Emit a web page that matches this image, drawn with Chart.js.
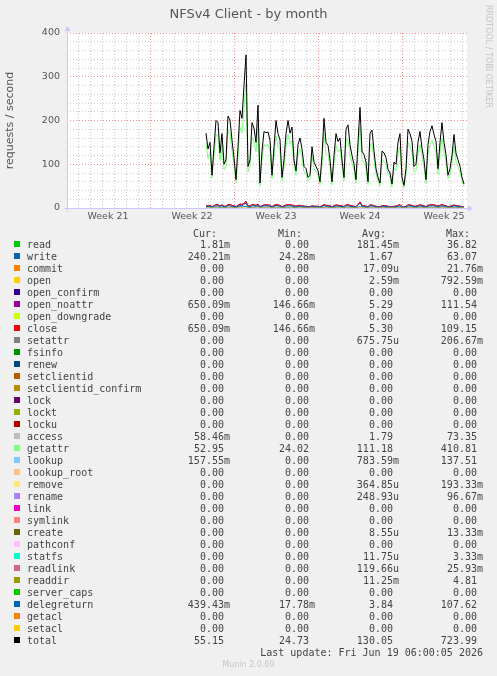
<!DOCTYPE html>
<html><head><meta charset="utf-8">
<script src="https://cdn.jsdelivr.net/npm/chart.js@4/dist/chart.umd.min.js"></script>
<style>
html,body{margin:0;padding:0;background:#f0f0f0;}
body{width:497px;height:676px;position:relative;overflow:hidden;font-family:"DejaVu Sans",sans-serif;}
#c{position:absolute;left:0;top:0;}
#title{position:absolute;left:0;width:497px;top:6px;line-height:16px;text-align:center;font-size:13px;color:#555;}
#rrd{position:absolute;left:484px;top:5px;writing-mode:vertical-rl;font-size:8px;line-height:9px;color:#c4c4c4;white-space:nowrap;}
.row{position:absolute;left:0;width:497px;height:12px;line-height:12px;font-family:"DejaVu Sans Mono",monospace;font-size:10px;color:#444;white-space:pre;}
.sw{position:absolute;left:14px;top:2px;width:6px;height:6px;}
.nm{position:absolute;left:27px;top:0;}
.v{position:absolute;top:0;text-align:right;}
#munin{position:absolute;left:0;width:497px;text-align:center;top:660px;font-size:8px;line-height:10px;color:#c8c8c8;}
</style></head>
<body>
<canvas id="c" width="497" height="230"></canvas>
<div id="title">NFSv4 Client - by month</div>
<div id="rrd">RRDTOOL / TOBI OETIKER</div>
<div id="legend"></div>
<div id="munin">Munin 2.0.69</div>
<script>
// ---- time axis (hours from left edge of graph), 2 hours per pixel ----
const axisMaxHours = 800;
const weekStarts = [166, 334, 502, 670];
const weekLabels = ['Week 21', 'Week 22', 'Week 23', 'Week 24', 'Week 25'];
const weekLabelHours = [82, 250, 418, 586, 754];
const yTickStep = 20;
const yLabelStep = 100;
const yMax = 400;

// ---- series samples: first sample hour and step (hours) ----
const sampleStartHour = 278;
const sampleStepHours = 4;

const total = [171,135,150,75,140,200,195,126,170,100,110,210,201,155,115,65,140,223,205,280,350,95,110,195,182,150,235,57,130,175,172,174,155,75,140,200,170,156,70,110,170,200,171,185,110,85,145,160,135,95,90,70,75,140,105,95,85,60,120,205,150,143,110,60,120,170,152,160,110,70,180,190,145,120,100,65,150,230,130,122,105,60,171,178,130,90,70,57,130,126,115,88,80,55,105,100,150,170,70,52,90,180,170,152,95,100,150,175,137,110,65,145,175,188,168,152,90,150,195,150,122,75,90,120,168,125,110,95,70,55];
const getattr = [150,112,128,68,120,168,165,108,145,88,95,178,170,130,98,58,118,185,172,230,285,82,95,162,152,128,190,50,110,145,142,145,130,66,118,165,142,132,62,95,142,168,145,155,95,75,122,135,115,82,78,62,66,118,90,82,75,53,102,170,125,120,94,53,102,142,128,135,94,62,150,158,122,102,86,57,125,185,110,104,90,53,143,148,110,78,62,50,110,107,98,77,70,48,90,86,125,140,62,46,78,150,142,128,82,86,125,145,115,94,57,122,145,155,140,128,78,125,160,125,104,66,78,102,140,106,94,82,62,49];
const close = [6,5,6,3,5,8,7,5,7,4,4,8,8,6,5,3,6,9,8,11,15,4,5,8,7,6,9,3,5,7,7,7,6,3,6,8,7,6,3,5,7,8,7,7,5,4,6,6,5,4,4,3,3,5,4,4,4,3,5,8,6,6,5,3,5,7,6,6,5,3,7,8,6,5,4,3,8,14,6,5,4,3,7,7,5,4,3,3,5,5,5,4,3,3,4,4,6,8,3,2,4,7,7,6,4,4,6,7,6,5,3,6,7,8,7,6,4,6,8,6,5,3,4,5,7,5,5,4,3,2];
const openNoattr = [6,5,6,3,5,8,7,5,7,4,4,8,8,6,5,3,6,9,8,11,15,4,5,8,7,6,9,3,5,7,7,7,6,3,6,8,7,6,3,5,7,8,7,7,5,4,6,6,5,4,4,3,3,5,4,4,4,3,5,8,6,6,5,3,5,7,6,6,5,3,7,8,6,5,4,3,8,14,6,5,4,3,7,7,5,4,3,3,5,5,5,4,3,3,4,4,6,8,3,2,4,7,7,6,4,4,6,7,6,5,3,6,7,8,7,6,4,6,8,6,5,3,4,5,7,5,5,4,3,2];
const delegreturn = [4,3,4,2,4,5,5,4,5,3,3,6,5,4,3,2,4,6,5,8,11,3,3,5,5,4,6,2,4,5,5,5,4,2,4,6,5,4,2,3,5,5,5,5,3,3,4,4,4,3,3,2,2,4,3,3,3,2,3,6,4,4,3,2,3,5,4,4,3,2,5,5,4,3,3,2,6,11,4,4,3,2,5,5,4,3,2,2,4,4,3,3,2,2,3,3,4,5,2,2,3,5,5,4,3,3,4,5,4,3,2,4,5,5,5,4,3,4,5,4,4,2,3,3,5,4,3,3,2,2];
const write = [2,2,2,1,2,2,2,1,2,1,1,2,2,2,1,1,2,3,2,3,4,1,1,2,2,2,3,1,2,2,2,2,2,1,2,2,2,2,1,1,2,2,2,2,1,1,2,2,2,1,1,1,1,2,1,1,1,1,1,2,2,2,1,1,1,2,2,2,1,1,2,2,2,1,1,1,2,3,2,2,1,1,2,2,2,1,1,1,2,2,1,1,1,1,1,1,2,2,1,1,1,2,2,2,1,1,2,2,2,1,1,2,2,2,2,2,1,2,2,2,2,1,1,1,2,2,1,1,1,1];
const setacl = [0,0];
const setaclHours = [278, 794];

// ---- legend table ----
const legendNames = ['read','write','commit','open','open_confirm','open_noattr','open_downgrade','close','setattr','fsinfo','renew','setclientid','setclientid_confirm','lock','lockt','locku','access','getattr','lookup','lookup_root','remove','rename','link','symlink','create','pathconf','statfs','readlink','readdir','server_caps','delegreturn','getacl','setacl','total'];
const legendColors = ['#00CC00','#0066B3','#FF8000','#FFCC00','#330099','#990099','#CCFF00','#FF0000','#808080','#008F00','#00487D','#B35A00','#B38F00','#6B006B','#8FB300','#B30000','#BEBEBE','#80FF80','#80C9FF','#FFC080','#FFE680','#AA80FF','#EE00CC','#FF8080','#666600','#FFBFFF','#00FFCC','#CC6699','#999900','#00CC00','#0066B3','#FF8000','#FFCC00','#000000'];
const legendCur = ['1.81m','240.21m','0.00','0.00','0.00','650.09m','0.00','650.09m','0.00','0.00','0.00','0.00','0.00','0.00','0.00','0.00','58.46m','52.95','157.55m','0.00','0.00','0.00','0.00','0.00','0.00','0.00','0.00','0.00','0.00','0.00','439.43m','0.00','0.00','55.15'];
const legendMin = ['0.00','24.28m','0.00','0.00','0.00','146.66m','0.00','146.66m','0.00','0.00','0.00','0.00','0.00','0.00','0.00','0.00','0.00','24.02','0.00','0.00','0.00','0.00','0.00','0.00','0.00','0.00','0.00','0.00','0.00','0.00','17.78m','0.00','0.00','24.73'];
const legendAvg = ['181.45m','1.67','17.09u','2.59m','0.00','5.29','0.00','5.30','675.75u','0.00','0.00','0.00','0.00','0.00','0.00','0.00','1.79','111.18','783.59m','0.00','364.85u','248.93u','0.00','0.00','8.55u','0.00','11.75u','119.66u','11.25m','0.00','3.84','0.00','0.00','130.05'];
const legendMax = ['36.82','63.07','21.76m','792.59m','0.00','111.54','0.00','109.15','206.67m','0.00','0.00','0.00','0.00','0.00','0.00','0.00','73.35','410.81','137.51','0.00','193.33m','96.67m','0.00','0.00','13.33m','0.00','3.33m','25.93m','4.81','0.00','107.62','0.00','0.00','723.99'];
const legendHeaders = ['Cur:','Min:','Avg:','Max:'];
const lastUpdate = 'Last update: Fri Jun 19 06:00:05 2026';

// ---- build legend (HTML text) ----
(function(){
  const leg = document.getElementById('legend');
  const colRight = [267, 182, 98, 14];
  const fmt = s => /[a-z]$/.test(s) ? s : s + ' ';
  const hdr = document.createElement('div');
  hdr.className = 'row'; hdr.style.top = '228px';
  legendHeaders.forEach((h, j) => {
    const sp = document.createElement('span'); sp.className = 'v';
    sp.style.right = (colRight[j] + 13) + 'px'; sp.textContent = h; hdr.appendChild(sp);
  });
  leg.appendChild(hdr);
  legendNames.forEach((n, i) => {
    const r = document.createElement('div');
    r.className = 'row'; r.style.top = (239 + 12 * i) + 'px';
    const sw = document.createElement('span'); sw.className = 'sw'; sw.style.background = legendColors[i]; r.appendChild(sw);
    const nm = document.createElement('span'); nm.className = 'nm'; nm.textContent = n; r.appendChild(nm);
    [legendCur[i], legendMin[i], legendAvg[i], legendMax[i]].forEach((v, j) => {
      const sp = document.createElement('span'); sp.className = 'v';
      sp.style.right = colRight[j] + 'px'; sp.textContent = fmt(v); r.appendChild(sp);
    });
    leg.appendChild(r);
  });
  const lu = document.createElement('div');
  lu.className = 'row'; lu.style.top = (239 + 12 * legendNames.length) + 'px';
  const sp = document.createElement('span'); sp.className = 'v'; sp.style.right = '14px'; sp.textContent = lastUpdate;
  lu.appendChild(sp); leg.appendChild(lu);
})();

// ---- chart ----
const toPoints = arr => arr.map((v, i) => ({x: sampleStartHour + i * sampleStepHours, y: v}));
const line = (label, color, pts) => ({label, data: pts, borderColor: color, backgroundColor: color, borderWidth: 1, pointRadius: 0, tension: 0, fill: false});

// first dataset is drawn on top
const datasets = [
  line('total', '#000000', toPoints(total)),
  line('setacl', '#FFCC00', setacl.map((v, i) => ({x: setaclHours[i], y: v}))),
  line('delegreturn', '#0066B3', toPoints(delegreturn)),
  line('getattr', '#80FF80', toPoints(getattr)),
  line('close', '#FF0000', toPoints(close)),
  line('open_noattr', '#990099', toPoints(openNoattr)),
  line('write', '#0066B3', toPoints(write))
];

const xTicks = [];
for (let h = weekStarts[0] % 24 - 24; h <= axisMaxHours; h += 24) if (h >= 0) xTicks.push(h);
weekLabelHours.forEach(h => xTicks.push(h));
xTicks.sort((a, b) => a - b);

const MINOR = 'rgba(160,160,160,0.55)';
const MAJOR = 'rgba(235,110,110,0.75)';

const bgPlugin = {
  id: 'bg',
  beforeDraw(chart) {
    const {ctx, chartArea: a} = chart;
    ctx.save();
    ctx.fillStyle = '#f0f0f0'; ctx.fillRect(0, 0, chart.width, chart.height);
    ctx.fillStyle = '#ffffff'; ctx.fillRect(a.left, a.top, a.right - a.left, a.bottom - a.top);
    ctx.restore();
  }
};
const axisPlugin = {
  id: 'axes',
  beforeDatasetsDraw(chart) {
    const {ctx} = chart;
    const xs = chart.scales.x, ys = chart.scales.y;
    const x0 = Math.round(xs.getPixelForValue(0)) + 0.5;
    const y0 = Math.round(ys.getPixelForValue(0)) + 0.5;
    const yTop = ys.getPixelForValue(yMax);
    const xEnd = xs.getPixelForValue(axisMaxHours);
    ctx.save();
    ctx.strokeStyle = '#c8c8ff'; ctx.fillStyle = '#c8c8ff'; ctx.lineWidth = 1;
    ctx.beginPath(); ctx.moveTo(x0, y0 + 3); ctx.lineTo(x0, yTop - 3); ctx.stroke();
    ctx.beginPath(); ctx.moveTo(x0 - 3, y0); ctx.lineTo(xEnd + 2, y0); ctx.stroke();
    ctx.beginPath(); ctx.moveTo(x0 - 3, yTop - 2); ctx.lineTo(x0 + 3, yTop - 2); ctx.lineTo(x0, yTop - 7); ctx.closePath(); ctx.fill();
    ctx.beginPath(); ctx.moveTo(xEnd + 1, y0 - 3); ctx.lineTo(xEnd + 1, y0 + 3); ctx.lineTo(xEnd + 6, y0); ctx.closePath(); ctx.fill();
    ctx.restore();
  }
};

new Chart(document.getElementById('c'), {
  type: 'line',
  data: {datasets},
  options: {
    responsive: false, animation: false, devicePixelRatio: 1,
    layout: {padding: {top: 33, right: 30, left: 0, bottom: 0}},
    plugins: {legend: {display: false}, tooltip: {enabled: false}, title: {display: false}},
    scales: {
      x: {
        type: 'linear', min: 0, max: axisMaxHours,
        afterFit(s) { s.height = 22; },
        afterBuildTicks(s) { s.ticks = xTicks.map(v => ({value: v})); },
        ticks: {
          autoSkip: false, maxRotation: 0, padding: 3, color: '#555',
          font: {family: 'DejaVu Sans', size: 9.5},
          callback(v) { const k = weekLabelHours.indexOf(v); return k >= 0 ? weekLabels[k] : ''; }
        },
        grid: {
          drawTicks: false, lineWidth: 1,
          color(c) {
            const v = c.tick ? c.tick.value : null;
            if (weekLabelHours.includes(v)) return 'rgba(0,0,0,0)';
            return weekStarts.includes(v) ? MAJOR : MINOR;
          }
        },
        border: {display: false, dash: [1, 2]}
      },
      y: {
        min: 0, max: yMax,
        afterFit(s) { s.width = 67; },
        ticks: {
          autoSkip: false, stepSize: yTickStep, padding: 7, color: '#555',
          font: {family: 'DejaVu Sans', size: 9.5},
          callback(v) { return v % yLabelStep === 0 ? String(v) : ''; }
        },
        grid: {
          drawTicks: false, lineWidth: 1,
          color(c) { const v = c.tick ? c.tick.value : 0; return v % yLabelStep === 0 ? MAJOR : MINOR; }
        },
        border: {display: false, dash: [1, 2]},
        title: {display: true, text: 'requests / second', color: '#555', font: {family: 'DejaVu Sans', size: 11}, padding: {top: 4, bottom: 0}}
      }
    }
  },
  plugins: [bgPlugin, axisPlugin]
});
</script>
</body></html>
